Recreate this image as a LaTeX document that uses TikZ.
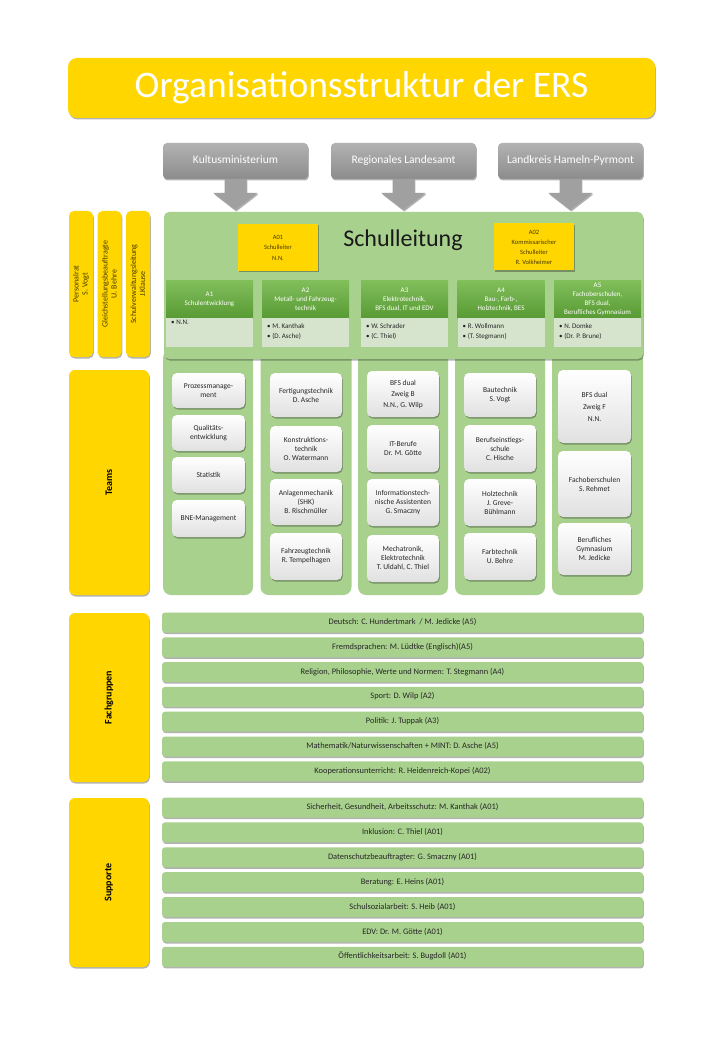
\documentclass[tikz,border=0pt]{standalone}
\usepackage{fontspec}
\setmainfont{Carlito}
\usetikzlibrary{shadows}
\definecolor{ersyellow}{RGB}{255,214,0}
\definecolor{lgreen}{RGB}{169,209,142}
\definecolor{hdrtop}{RGB}{128,190,90}
\definecolor{hdrbot}{RGB}{88,154,52}
\definecolor{bodygreen}{RGB}{214,228,205}
\definecolor{graytop}{RGB}{178,178,178}
\definecolor{graybot}{RGB}{140,140,140}
\definecolor{arrowgray}{RGB}{160,160,160}
\definecolor{darktext}{RGB}{38,38,38}
\definecolor{yeltext}{RGB}{75,60,0}
\tikzset{
  shd/.style={drop shadow={shadow xshift=0.8pt,shadow yshift=-1.5pt,opacity=0.3,fill=black}},
  box/.style={inner sep=0pt,outer sep=0pt,align=center},
  titlebox/.style={box,shd,fill=ersyellow,rounded corners=9pt,text=white,font=\fontsize{37.5}{40}\selectfont},
  govbox/.style={box,shd,top color=graytop,bottom color=graybot,rounded corners=4pt,text=white,font=\fontsize{11.5}{13}\selectfont,minimum width=145pt,minimum height=36pt,text height=8pt,text depth=2.5pt},
  vbox/.style={box,shd,fill=ersyellow,rounded corners=5pt,minimum width=24pt,minimum height=146pt},
  vlabel/.style={box,rotate=90,text=yeltext,font=\fontsize{8}{9}\selectfont},
  biglabel/.style={box,shd,fill=ersyellow,rounded corners=6pt,minimum width=80pt},
  sidetext/.style={box,rotate=90,text=black,font=\bfseries\fontsize{10}{12}\selectfont},
  slbox/.style={box,shd,fill=lgreen,rounded corners=5pt},
  abox/.style={box,shd,fill=ersyellow,minimum width=80pt,minimum height=47pt,text=yeltext,font=\fontsize{6.5}{10.5}\selectfont},
  hdr/.style={box,top color=hdrtop,bottom color=hdrbot,minimum width=87pt,minimum height=37pt,text=white,font=\fontsize{7}{8.8}\selectfont},
  body/.style={box,fill=bodygreen,minimum width=87pt,minimum height=29pt},
  bodytext/.style={inner sep=0pt,anchor=north west,align=left,text=darktext,font=\fontsize{7}{10}\selectfont},
  teamcol/.style={box,fill=lgreen,rounded corners=8pt,minimum height=245pt},
  teambox/.style={box,shd,top color=white,bottom color=black!12,rounded corners=5pt,text=darktext,font=\fontsize{7.5}{9}\selectfont},
  bar/.style={box,shd,fill=lgreen,rounded corners=3pt,minimum width=481pt,minimum height=20pt,text=darktext,font=\fontsize{8.4}{10}\selectfont,text height=6pt,text depth=2pt},
}
\begin{document}
\begin{tikzpicture}[x=1pt,y=-1pt]
\useasboundingbox[fill=white] (0,0) rectangle (720,1040);

% title
\node[titlebox,minimum width=587pt,minimum height=60pt] (title) at (361.5,88) {Organisationsstruktur der ERS};

% government boxes
\node[govbox] (kult) at (235.5,161) {Kultusministerium};
\node[govbox] (reg) at (403.5,161) {Regionales Landesamt};
\node[govbox] (land) at (570.5,161) {Landkreis Hameln-Pyrmont};
\foreach \n in {kult,reg,land}{
  \fill[arrowgray,shd] (\n.south) ++(-11,0) -- ++(0,14) -- ++(-11,0) -- ++(22,17) -- ++(22,-17) -- ++(-11,0) -- ++(0,-14) -- cycle;
}

% vertical yellow boxes
\node[vbox] (pers) at (81,284) {};
\node[vlabel] (persl) at (pers.center) {Personalrat\\S. Vogt};
\node[vbox] (gleich) at (109.5,284) {};
\node[vlabel] (gleichl) at (gleich.center) {Gleichstellungsbeauftragte\\U. Behre};
\node[vbox] (verw) at (138,284) {};
\node[vlabel] (verwl) at (verw.center) {Schulverwaltungsleitung\\J.Klause};

% team columns (behind)
\node[teamcol,minimum width=90pt] (col1) at (208,472.5) {};
\node[teamcol,minimum width=91pt] (col2) at (306,472.5) {};
\node[teamcol,minimum width=90pt] (col3) at (403,472.5) {};
\node[teamcol,minimum width=90pt] (col4) at (500,472.5) {};
\node[teamcol,minimum width=91pt] (col5) at (597.5,472.5) {};

% Schulleitung
\node[slbox,minimum width=479pt,minimum height=147pt] (sl) at (403.5,285.5) {};
\node[box,font=\fontsize{24}{28}\selectfont,text=black!90] (sltext) at (403,240) {Schulleitung};
\node[abox] (a01) at (278,247.5) {A01\\Schulleiter\\N.N.};
\node[abox,font=\fontsize{6.5}{10}\selectfont] (a02) at (534,247) {A02\\Kommissarischer\\Schulleiter\\R. Volkheimer};

% A headers
\node[hdr] (h1) at (209.5,299.5) {A1\\Schulentwicklung};
\node[hdr] (h2) at (305.5,299.5) {A2\\Metall- und Fahrzeug-\\technik};
\node[hdr] (h3) at (404.5,299.5) {A3\\Elektrotechnik,\\BFS dual, IT und EDV};
\node[hdr] (h4) at (501,299.5) {A4\\Bau-, Farb-,\\Holztechnik, BES};
\node[hdr] (h5) at (597.5,299.5) {A5\\Fachoberschulen,\\BFS dual,\\Berufliches Gymnasium};
\node[body] (b1) at (209.5,332.5) {};
\node[body] (b2) at (305.5,332.5) {};
\node[body] (b3) at (404.5,332.5) {};
\node[body] (b4) at (501,332.5) {};
\node[body] (b5) at (597.5,332.5) {};
\node[bodytext] (t1) at ([xshift=5pt,yshift=-2pt]b1.north west) {• N.N.};
\node[bodytext] (t2) at ([xshift=5pt,yshift=-5pt]b2.north west) {• M. Kanthak\\• (D. Asche)};
\node[bodytext] (t3) at ([xshift=5pt,yshift=-5pt]b3.north west) {• W. Schrader\\• (C. Thiel)};
\node[bodytext] (t4) at ([xshift=5pt,yshift=-5pt]b4.north west) {• R. Wollmann\\• (T. Stegmann)};
\node[bodytext] (t5) at ([xshift=5pt,yshift=-5pt]b5.north west) {• N. Domke\\• (Dr. P. Brune)};

% Teams label
\node[biglabel,minimum height=225pt] (teams) at (109,482.5) {};
\node[sidetext] (teamsl) at (teams.center) {Teams};

% team boxes column 1
\node[teambox,minimum width=73pt,minimum height=35pt] (p1) at (208.5,390.5) {Prozessmanage-\\ment};
\node[teambox,minimum width=73pt,minimum height=36pt] (p2) at (208.5,433) {Qualitäts-\\entwicklung};
\node[teambox,minimum width=73pt,minimum height=36pt] (p3) at (208.5,475) {Statistik};
\node[teambox,minimum width=73pt,minimum height=37pt] (p4) at (208.5,518.5) {BNE-Management};
% column 2
\node[teambox,minimum width=72pt,minimum height=44pt] (m1) at (306,395) {Fertigungstechnik\\D. Asche};
\node[teambox,minimum width=72pt,minimum height=46pt] (m2) at (306,449) {Konstruktions-\\technik\\O. Watermann};
\node[teambox,minimum width=72pt,minimum height=46pt] (m3) at (306,502) {Anlagenmechanik\\(SHK)\\B. Rischmüller};
\node[teambox,minimum width=72pt,minimum height=47pt] (m4) at (306,556.5) {Fahrzeugtechnik\\R. Tempelhagen};
% column 3
\node[teambox,minimum width=72pt,minimum height=46pt,font=\fontsize{7.5}{11}\selectfont] (e1) at (403,394) {BFS dual\\Zweig B\\N.N., G. Wilp};
\node[teambox,minimum width=72pt,minimum height=47pt] (e2) at (403,448.5) {IT-Berufe\\Dr. M. Götte};
\node[teambox,minimum width=72pt,minimum height=47pt] (e3) at (403,502.5) {Informationstech-\\nische Assistenten\\G. Smaczny};
\node[teambox,minimum width=72pt,minimum height=47pt] (e4) at (403,558.5) {Mechatronik,\\Elektrotechnik\\T. Uldahl, C. Thiel};
% column 4
\node[teambox,minimum width=72pt,minimum height=44pt] (bau1) at (500,395) {Bautechnik\\S. Vogt};
\node[teambox,minimum width=72pt,minimum height=47pt] (bau2) at (500,448.5) {Berufseinstiegs-\\schule\\C. Hische};
\node[teambox,minimum width=72pt,minimum height=47pt] (bau3) at (500,502.5) {Holztechnik\\J. Greve-\\Bühlmann};
\node[teambox,minimum width=72pt,minimum height=47pt] (bau4) at (500,556.5) {Farbtechnik\\U. Behre};
% column 5
\node[teambox,minimum width=73pt,minimum height=73pt,font=\fontsize{7.5}{12}\selectfont] (f1) at (594.5,406.5) {BFS dual\\Zweig F\\N.N.};
\node[teambox,minimum width=73pt,minimum height=66pt] (f2) at (594.5,484) {Fachoberschulen\\S. Rehmet};
\node[teambox,minimum width=73pt,minimum height=52pt] (f3) at (594.5,549) {Berufliches\\Gymnasium\\M. Jedicke};

% Fachgruppen
\node[biglabel,minimum height=169pt] (fach) at (109,697.5) {};
\node[sidetext] (fachl) at (fach.center) {Fachgruppen};
\node[bar] (fg1) at (402.5,622.5) {Deutsch: C. Hundertmark \ / M. Jedicke (A5)};
\node[bar] (fg2) at (402.5,647.3) {Fremdsprachen: M. Lüdtke (Englisch)(A5)};
\node[bar] (fg3) at (402.5,672.1) {Religion, Philosophie, Werte und Normen: T. Stegmann (A4)};
\node[bar] (fg4) at (402.5,696.9) {Sport: D. Wilp (A2)};
\node[bar] (fg5) at (402.5,721.7) {Politik: J. Tuppak (A3)};
\node[bar] (fg6) at (402.5,746.5) {Mathematik/Naturwissenschaften + MINT: D. Asche (A5)};
\node[bar] (fg7) at (402.5,771.3) {Kooperationsunterricht: R. Heidenreich-Kopei (A02)};

% Supporte
\node[biglabel,minimum height=169pt] (sup) at (109,882.5) {};
\node[sidetext] (supl) at (sup.center) {Supporte};
\node[bar] (s1) at (402.5,807.5) {Sicherheit, Gesundheit, Arbeitsschutz: M. Kanthak (A01)};
\node[bar] (s2) at (402.5,832.4) {Inklusion: C. Thiel (A01)};
\node[bar] (s3) at (402.5,857.3) {Datenschutzbeauftragter: G. Smaczny (A01)};
\node[bar] (s4) at (402.5,882.2) {Beratung: E. Heins (A01)};
\node[bar] (s5) at (402.5,907.1) {Schulsozialarbeit: S. Heib (A01)};
\node[bar] (s6) at (402.5,932) {EDV: Dr. M. Götte (A01)};
\node[bar] (s7) at (402.5,956.9) {Öffentlichkeitsarbeit: S. Bugdoll (A01)};
\end{tikzpicture}
\end{document}
